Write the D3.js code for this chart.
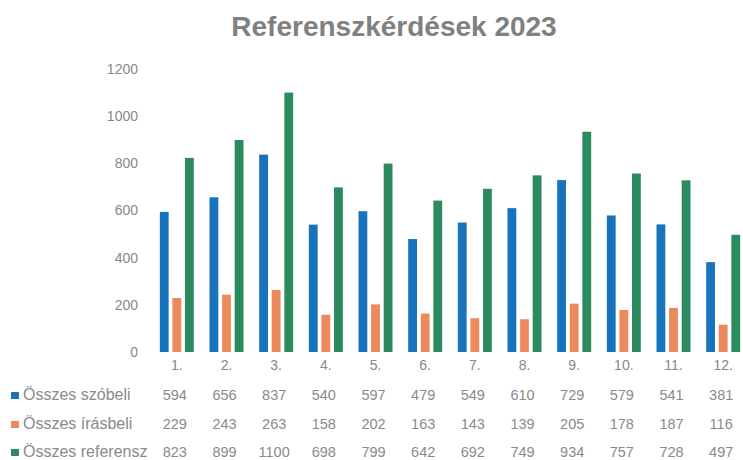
<!DOCTYPE html>
<html>
<head>
<meta charset="utf-8">
<script src="https://cdn.jsdelivr.net/npm/d3@7"></script>
<style>
  body { margin: 0; background: #fff; }
  text { font-family: "Liberation Sans", Arial, sans-serif; }
</style>
</head>
<body>
<div id="chart"></div>
<script>
// data
const months = ["1.", "2.", "3.", "4.", "5.", "6.", "7.", "8.", "9.", "10.", "11.", "12."];
const seriesNames = ["Összes szóbeli", "Összes írásbeli", "Összes referensz"];
const szobeli = [594, 656, 837, 540, 597, 479, 549, 610, 729, 579, 541, 381];
const irasbeli = [229, 243, 263, 158, 202, 163, 143, 139, 205, 178, 187, 116];
const referensz = [823, 899, 1100, 698, 799, 642, 692, 749, 934, 757, 728, 497];
const yTicks = [0, 200, 400, 600, 800, 1000, 1200];
const colors = ["#1774bc", "#ec8a5d", "#2b8a5e"];

const series = [szobeli, irasbeli, referensz];

const width = 743, height = 460;
const margin = ({top: 69, right: -5, bottom: 108, left: 152});

const svg = d3.create("svg")
    .attr("width", width)
    .attr("height", height);

// title
svg.append("text")
    .attr("x", 394)
    .attr("y", 36)
    .attr("text-anchor", "middle")
    .attr("font-size", 28)
    .attr("font-weight", "bold")
    .attr("fill", "#808080")
    .text("Referenszkérdések 2023");

// scales
const xScale = d3.scaleBand()
    .domain(months)
    .range([margin.left, width - margin.right])
    .paddingInner(0)
    .paddingOuter(0);

const xSub = d3.scaleBand()
    .domain(d3.range(series.length))
    .range([0, 34])
    .paddingInner(0.3);

const yScale = d3.scaleLinear()
    .domain([0, 1200])
    .range([height - margin.bottom, margin.top]);

// y axis
const yAxis = svg.append("g")
    .attr("transform", `translate(${margin.left - 10}, 0)`)
    .call(d3.axisLeft(yScale).tickValues(yTicks).tickFormat(d3.format("d")).tickSize(0).tickPadding(4))
    .call(g => g.select(".domain").remove());
yAxis.selectAll("text")
    .attr("font-family", "Liberation Sans, Arial, sans-serif")
    .attr("font-size", 14)
    .attr("fill", "#888");

// bars
const groups = svg.append("g").selectAll("g")
    .data(months)
    .join("g")
    .attr("transform", d => `translate(${xScale(d) + xScale.bandwidth() / 2 - 17}, 0)`);

groups.selectAll("rect")
    .data((m, i) => series.map((s, k) => ({k: k, v: s[i]})))
    .join("rect")
    .attr("x", d => xSub(d.k))
    .attr("y", d => yScale(d.v))
    .attr("width", xSub.bandwidth())
    .attr("height", d => yScale(0) - yScale(d.v))
    .attr("fill", d => colors[d.k]);

// x axis (month labels)
const xAxis = svg.append("g")
    .attr("transform", `translate(0, ${height - margin.bottom})`)
    .call(d3.axisBottom(xScale).tickSize(0).tickPadding(8))
    .call(g => g.select(".domain").remove());
xAxis.selectAll("text")
    .attr("font-family", "Liberation Sans, Arial, sans-serif")
    .attr("font-size", 14)
    .attr("fill", "#888");

// data table under the chart
const rowY = [400, 429, 457];
series.forEach((s, k) => {
    const row = svg.append("g");
    row.append("rect")
        .attr("x", 11)
        .attr("y", rowY[k] - 8)
        .attr("width", 8)
        .attr("height", 7)
        .attr("fill", colors[k]);
    row.append("text")
        .attr("x", 23)
        .attr("y", rowY[k])
        .attr("font-size", 16)
        .attr("fill", "#8a8a8a")
        .text(seriesNames[k]);
    row.selectAll(".val")
        .data(s)
        .join("text")
        .attr("class", "val")
        .attr("x", (d, i) => xScale(months[i]) + xScale.bandwidth() / 2 - 2)
        .attr("y", rowY[k])
        .attr("text-anchor", "middle")
        .attr("font-size", 14.5)
        .attr("fill", "#8a8a8a")
        .text(d => d);
});

document.getElementById("chart").appendChild(svg.node());
</script>
</body>
</html>
